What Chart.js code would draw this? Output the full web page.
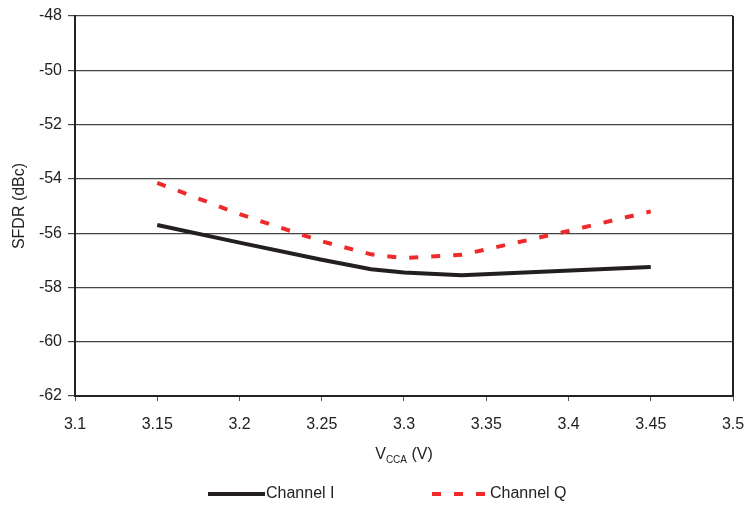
<!DOCTYPE html>
<html>
<head>
<meta charset="utf-8">
<script src="https://cdn.jsdelivr.net/npm/chart.js@4/dist/chart.umd.min.js"></script>
<style>
  html, body { margin: 0; padding: 0; background: #fff; }
  #wrap { width: 746px; height: 506px; position: relative; }
</style>
</head>
<body>
<div id="wrap"><canvas id="chartSfdr"></canvas></div>
<script>
// ---- data ----
var voltsI = [3.15, 3.2, 3.25, 3.28, 3.3, 3.335, 3.45];
var sfdrI  = [-55.7, -56.35, -56.98, -57.33, -57.45, -57.55, -57.25];
var voltsQ = [3.15, 3.2, 3.25, 3.28, 3.3, 3.335, 3.4, 3.45];
var sfdrQ  = [-54.15, -55.3, -56.3, -56.78, -56.92, -56.8, -55.92, -55.2];

var xTicks = [3.1, 3.15, 3.2, 3.25, 3.3, 3.35, 3.4, 3.45, 3.5];
var xTickLabels = ['3.1', '3.15', '3.2', '3.25', '3.3', '3.35', '3.4', '3.45', '3.5'];
var yTicks = [-62, -60, -58, -56, -54, -52, -50, -48];

var seriesNames = ['Channel I', 'Channel Q'];
var FONT = '"Liberation Sans", Arial, sans-serif';

function toPoints(xs, ys) {
    return xs.map(function(x, i) { return { x: x, y: ys[i] }; });
}

// frame, x title with subscript, and legend
var decorPlugin = {
    id: 'decor',
    afterDraw: function(chart) {
        var ctx = chart.ctx, a = chart.chartArea;
        ctx.save();
        // right border
        ctx.strokeStyle = '#222';
        ctx.lineWidth = 2;
        ctx.beginPath();
        ctx.moveTo(a.right, a.top);
        ctx.lineTo(a.right, a.bottom);
        ctx.stroke();

        // x axis title: V_CCA (V)
        var cx = (a.left + a.right) / 2, ty = 455;
        ctx.fillStyle = '#222';
        ctx.textBaseline = 'middle';
        ctx.font = '16px ' + FONT;
        var wV = ctx.measureText('V').width;
        var wR = ctx.measureText(' (V)').width;
        ctx.font = '10px ' + FONT;
        var wS = ctx.measureText('CCA').width;
        var x0 = cx - (wV + wS + wR) / 2;
        ctx.font = '16px ' + FONT;
        ctx.textAlign = 'left';
        ctx.fillText('V', x0, ty);
        ctx.font = '10px ' + FONT;
        ctx.fillText('CCA', x0 + wV, ty + 5);
        ctx.font = '16px ' + FONT;
        ctx.fillText(' (V)', x0 + wV + wS, ty);

        // legend
        var ly = 494;
        var starts = [208, 432];
        chart.data.datasets.forEach(function(ds, i) {
            var lx = starts[i];
            ctx.strokeStyle = ds.borderColor;
            ctx.lineWidth = ds.borderWidth;
            ctx.setLineDash(ds.borderDash || []);
            ctx.beginPath();
            ctx.moveTo(lx, ly);
            ctx.lineTo(lx + 57, ly);
            ctx.stroke();
            ctx.setLineDash([]);
            ctx.fillStyle = '#222';
            ctx.font = '16px ' + FONT;
            ctx.textAlign = 'left';
            ctx.fillText(ds.label, lx + 58, ly);
        });
        ctx.restore();
    }
};

var chart = new Chart(document.getElementById('chartSfdr'), {
    type: 'line',
    data: {
        datasets: [
            {
                label: seriesNames[0],
                data: toPoints(voltsI, sfdrI),
                borderColor: '#231f20',
                borderWidth: 4,
                pointRadius: 0,
                tension: 0,
                fill: false
            },
            {
                label: seriesNames[1],
                data: toPoints(voltsQ, sfdrQ),
                borderColor: '#ee2a2a',
                borderWidth: 4,
                borderDash: [9, 13],
                pointRadius: 0,
                tension: 0,
                fill: false
            }
        ]
    },
    options: {
        responsive: true, maintainAspectRatio: false, animation: false,
        layout: { padding: { top: 16, right: 13, left: 10, bottom: 0 } },
        plugins: { legend: { display: false }, tooltip: { enabled: false } },
        scales: {
            x: {
                type: 'linear', min: 3.1, max: 3.5,
                afterBuildTicks: function(s) { s.ticks = xTicks.map(function(v) { return { value: v }; }); },
                afterFit: function(s) { s.height = 110; s.paddingLeft = 0; s.paddingRight = 0; },
                grid: { drawOnChartArea: false, drawTicks: true, tickLength: 5, color: '#555', lineWidth: 1 },
                border: { display: true, color: '#222', width: 2 },
                ticks: {
                    color: '#222', padding: 14, maxRotation: 0, autoSkip: false,
                    font: { family: FONT, size: 16 },
                    callback: function(v, i) { return xTickLabels[i]; }
                }
            },
            y: {
                type: 'linear', min: -62, max: -48,
                afterBuildTicks: function(s) { s.ticks = yTicks.map(function(v) { return { value: v }; }); },
                afterFit: function(s) { s.width = 65; s.paddingTop = 0; s.paddingBottom = 0; },
                grid: { color: '#444', lineWidth: 1.2, tickLength: 7 },
                border: { display: true, color: '#222', width: 2 },
                ticks: {
                    color: '#222', padding: 6,
                    font: { family: FONT, size: 16 },
                    callback: function(v) { return String(v); }
                },
                title: {
                    display: true, text: 'SFDR (dBc)', color: '#222',
                    font: { family: FONT, size: 16 }, padding: { top: 0, bottom: 4 }
                }
            }
        }
    },
    plugins: [decorPlugin]
});
</script>
</body>
</html>
